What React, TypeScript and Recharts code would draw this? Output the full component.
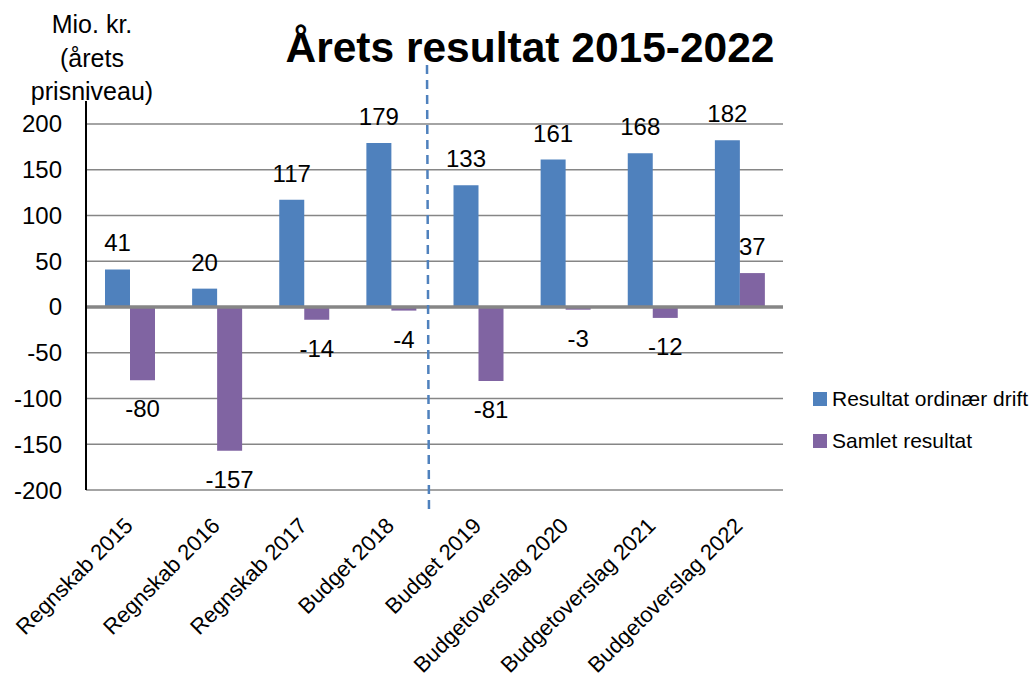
import React from 'react';
import { BarChart, Bar, XAxis, YAxis, CartesianGrid, ReferenceLine, LabelList, Legend } from 'recharts';

const categories = ['Regnskab 2015', 'Regnskab 2016', 'Regnskab 2017', 'Budget 2018', 'Budget 2019', 'Budgetoverslag 2020', 'Budgetoverslag 2021', 'Budgetoverslag 2022'];
const ordinaerDrift = [41, 20, 117, 179, 133, 161, 168, 182];
const samletResultat = [-80, -157, -14, -4, -81, -3, -12, 37];
const yTicks = [-200, -150, -100, -50, 0, 50, 100, 150, 200];
const seriesNames = ['Resultat ordinær drift', 'Samlet resultat'];
const title = 'Årets resultat 2015-2022';
const yLabelLines = ['Mio. kr.', '(årets', 'prisniveau)'];

const BLUE = '#4F81BD';
const PURPLE = '#8064A2';
const FONT = '"Liberation Sans", Arial, sans-serif';

const data = categories.map((c, i) => ({ name: c, a: ordinaerDrift[i], b: samletResultat[i] }));

const BarLabel = (props: any) => {
  const { x, y, width, height, value } = props;
  const top = Math.min(y, y + height);
  const bottom = Math.max(y, y + height);
  const ty = value >= 0 ? top - 18 : bottom + 37;
  return (
    <text x={x + width / 2} y={ty} textAnchor="middle" fontSize={24} fontFamily={FONT} fill="#000">
      {value}
    </text>
  );
};

const XTick = (props: any) => {
  const { x, y, payload } = props;
  const ax = x + 4.5;
  const ay = y + 37;
  return (
    <text x={ax} y={ay} textAnchor="end" fontSize={22} fontFamily={FONT} fill="#000" transform={`rotate(-45, ${ax}, ${ay})`}>
      {payload.value}
    </text>
  );
};

const LegendContent = () => (
  <div style={{ fontFamily: FONT, fontSize: 21, color: '#000' }}>
    {seriesNames.map((n, i) => (
      <div key={n} style={{ display: 'flex', alignItems: 'center', height: 42 }}>
        <span style={{ display: 'inline-block', width: 14, height: 14, background: i === 0 ? BLUE : PURPLE, marginRight: 5 }} />
        <span>{n}</span>
      </div>
    ))}
  </div>
);

export default function App() {
  return (
    <div style={{ position: 'absolute', left: 0, top: 0, width: 1032, height: 684, background: '#fff' }}>
      <BarChart
        width={1032}
        height={684}
        data={data}
        margin={{ top: 101, right: 249, left: 26, bottom: 14 }}
        barSize={25}
        barGap={0}
      >
        <CartesianGrid vertical={false} stroke="#868686" strokeWidth={1.5} horizontalValues={yTicks} />
        <XAxis dataKey="name" axisLine={false} tickLine={false} tickSize={0} tickMargin={0} height={180} interval={0} tick={<XTick />} />
        <YAxis
          domain={[-200, 225]}
          ticks={yTicks}
          width={60}
          axisLine={{ stroke: '#000', strokeWidth: 2 }}
          tickLine={false}
          tickSize={0}
          tickMargin={24}
          tick={{ fontSize: 24, fontFamily: FONT, fill: '#000' }}
          allowDataOverflow
        />
        <ReferenceLine y={0} stroke="#868686" strokeWidth={3.5} />
        <Legend
          layout="vertical"
          align="center"
          verticalAlign="middle"
          wrapperStyle={{ left: 813, top: 378, width: 220 }}
          content={<LegendContent />}
        />
        <Bar dataKey="a" name={seriesNames[0]} fill={BLUE} isAnimationActive={false}>
          <LabelList dataKey="a" content={<BarLabel />} />
        </Bar>
        <Bar dataKey="b" name={seriesNames[1]} fill={PURPLE} isAnimationActive={false}>
          <LabelList dataKey="b" content={<BarLabel />} />
        </Bar>
      </BarChart>
      <svg width={1032} height={684} style={{ position: 'absolute', left: 0, top: 0, pointerEvents: 'none' }}>
        <text x={530} y={62} textAnchor="middle" fontSize={42.5} fontWeight="bold" fontFamily={FONT} fill="#000">{title}</text>
        {yLabelLines.map((l, i) => (
          <text key={l} x={92} y={33 + i * 33.5} textAnchor="middle" fontSize={25} fontFamily={FONT} fill="#000">{l}</text>
        ))}
        <line x1={427} y1={65} x2={429} y2={515} stroke={BLUE} strokeWidth={2.5} strokeDasharray="9 6" />
      </svg>
    </div>
  );
}
